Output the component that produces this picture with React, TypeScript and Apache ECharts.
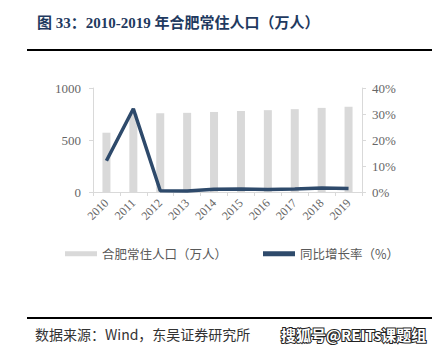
import React, { useEffect, useRef } from "react";
import * as echarts from "echarts";

const categories = ["2010", "2011", "2012", "2013", "2014", "2015", "2016", "2017", "2018", "2019"];
const population = [570.2, 752.1, 757.2, 761.1, 769.6, 779.0, 786.9, 796.5, 808.7, 818.9];
const growth = [12.0, 32.0, 0.5, 0.4, 1.1, 1.2, 1.0, 1.2, 1.5, 1.3];
const titleText = "图 33：2010-2019 年合肥常住人口（万人）";
const sourceText = "数据来源：Wind，东吴证券研究所";
const watermarkText = "搜狐号@REITs课题组";
const barName = "合肥常住人口（万人）";
const lineName = "同比增长率（%）";

export default function App() {
  const ref = useRef<HTMLDivElement>(null);
  useEffect(() => {
    document.body.style.margin = "0";
    const chart = echarts.init(ref.current!, null, { renderer: "svg" });
    const axisFont = { fontFamily: "Liberation Serif", color: "#666", fontSize: 12 };
    chart.setOption({
      animation: false,
      backgroundColor: "#fff",
      grid: { left: 93, right: 82, top: 88, bottom: 165 },
      legend: {
        bottom: 92,
        left: 60,
        itemGap: 36,
        textStyle: { fontFamily: "Noto Sans CJK SC", color: "#595959", fontSize: 12.5 },
        data: [
          { name: barName, icon: "rect", itemStyle: { color: "#d9d9d9" } },
          { name: lineName, icon: "rect", itemStyle: { color: "#2e4a6b" } },
        ],
        itemWidth: 32,
        itemHeight: 5,
      },
      xAxis: {
        type: "category",
        data: categories,
        axisLine: { lineStyle: { color: "#d9d9d9" } },
        axisTick: { show: true, length: 4, lineStyle: { color: "#d9d9d9" } },
        axisLabel: { ...axisFont, rotate: 45, margin: 9 },
      },
      yAxis: [
        {
          type: "value",
          min: 0,
          max: 1000,
          interval: 500,
          splitLine: { show: false },
          axisLine: { show: true, lineStyle: { color: "#d9d9d9" } },
          axisTick: { show: true, length: 4, lineStyle: { color: "#d9d9d9" } },
          axisLabel: { ...axisFont, fontSize: 13, margin: 12, formatter: (v: number) => String(v) },
        },
        {
          type: "value",
          min: 0,
          max: 40,
          interval: 10,
          splitLine: { show: false },
          axisLine: { show: true, lineStyle: { color: "#d9d9d9" } },
          axisTick: { show: true, length: 4, lineStyle: { color: "#d9d9d9" } },
          axisLabel: { ...axisFont, fontSize: 13, margin: 10, formatter: "{value}%" },
        },
      ],
      series: [
        {
          name: barName,
          type: "bar",
          data: population,
          barWidth: 8,
          itemStyle: { color: "#d9d9d9" },
        },
        {
          name: lineName,
          type: "line",
          yAxisIndex: 1,
          data: growth,
          symbol: "none",
          lineStyle: { color: "#2e4a6b", width: 3.5 },
          itemStyle: { color: "#2e4a6b" },
        },
      ],
      graphic: [
        {
          type: "text",
          left: 37,
          top: 15,
          style: {
            text: titleText,
            fill: "#1f3a60",
            font: "bold 15px 'Liberation Serif', 'Noto Sans CJK SC'",
          },
        },
        {
          type: "line",
          shape: { x1: 27, y1: 50, x2: 432, y2: 50 },
          style: { stroke: "#000", lineWidth: 2 },
        },
        {
          type: "line",
          shape: { x1: 27, y1: 318, x2: 432, y2: 318 },
          style: { stroke: "#000", lineWidth: 2 },
        },
        {
          type: "text",
          left: 35,
          top: 327,
          style: {
            text: sourceText,
            fill: "#333",
            font: "14px 'Noto Sans CJK SC'",
          },
        },
        {
          type: "text",
          left: 280,
          top: 326,
          style: {
            text: watermarkText,
            fill: "#fff",
            stroke: "#222",
            lineWidth: 2,
            font: "bold 15px 'Noto Sans CJK SC'",
          },
        },
      ],
    });
    return () => chart.dispose();
  }, []);
  return <div ref={ref} style={{ width: 444, height: 357 }} />;
}
